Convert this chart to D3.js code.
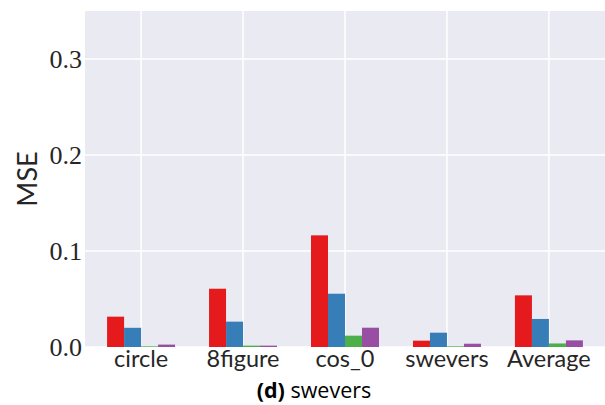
<!DOCTYPE html>
<html>
<head>
<meta charset="utf-8">
<script src="https://cdn.jsdelivr.net/npm/d3@7"></script>
<style>
  html, body { margin: 0; padding: 0; background: #ffffff; }
  svg { display: block; }
</style>
</head>
<body>
<svg id="chart" width="605" height="405"></svg>
<script>
// Trajectories and the mean over them
const categories = ["circle", "8figure", "cos_0", "swevers", "Average"];

// MSE per method, one array per method (in category order)
const seriesA = [0.0316, 0.0607, 0.1163, 0.0066, 0.0538];
const seriesB = [0.0200, 0.0264, 0.0555, 0.0149, 0.0292];
const seriesC = [0.0007, 0.0014, 0.0118, 0.0007, 0.0037];
const seriesD = [0.0025, 0.0014, 0.0201, 0.0034, 0.0069];

const seriesColors = ["#E41A1C", "#377EB8", "#4DAF4A", "#984EA3"];
const yTicks = [0.0, 0.1, 0.2, 0.3];

const series = [seriesA, seriesB, seriesC, seriesD];

const svg = d3.select("#chart");
const plot = { left: 85, top: 11, right: 605, bottom: 347 };

const x = d3.scaleLinear().domain([-0.55, categories.length - 0.45]).range([plot.left, plot.right]);
const y = d3.scaleLinear().domain([0, 0.35]).range([plot.bottom, plot.top]);

// Axes background
svg.append("rect")
  .attr("x", plot.left).attr("y", plot.top)
  .attr("width", plot.right - plot.left).attr("height", plot.bottom - plot.top)
  .attr("fill", "#EAEAF2");

// Gridlines
const g = svg.append("g");
g.selectAll("line.hgrid").data(yTicks).enter().append("line")
  .attr("class", "hgrid")
  .attr("x1", plot.left).attr("x2", plot.right)
  .attr("y1", d => y(d)).attr("y2", d => y(d))
  .attr("stroke", "#ffffff").attr("stroke-width", 1.5);
g.selectAll("line.vgrid").data(categories).enter().append("line")
  .attr("class", "vgrid")
  .attr("x1", (d, i) => x(i)).attr("x2", (d, i) => x(i))
  .attr("y1", plot.top).attr("y2", plot.bottom)
  .attr("stroke", "#ffffff").attr("stroke-width", 1.5);

// Bars: four per category, side by side
const barW = 1 / 6;
series.forEach((vals, s) => {
  svg.append("g").selectAll("rect").data(vals).enter().append("rect")
    .attr("x", (d, i) => x(i + (s - 2) * barW))
    .attr("width", x(barW) - x(0))
    .attr("y", d => y(d))
    .attr("height", d => y(0) - y(d))
    .attr("fill", seriesColors[s]);
});

// Y tick labels
svg.append("g").selectAll("text").data(yTicks).enter().append("text")
  .attr("x", 82).attr("y", d => y(d))
  .attr("dy", "0.35em")
  .attr("text-anchor", "end")
  .attr("font-family", "'Liberation Serif', serif")
  .attr("font-size", 26)
  .attr("fill", "#262626")
  .text(d => d.toFixed(1));

// X tick labels
svg.append("g").selectAll("text").data(categories).enter().append("text")
  .attr("x", (d, i) => x(i)).attr("y", 367)
  .attr("text-anchor", "middle")
  .attr("font-family", "Lato, sans-serif")
  .attr("font-size", 23.5)
  .attr("fill", "#262626")
  .text(d => d);

// Y axis title
svg.append("text")
  .attr("transform", "translate(37,179) rotate(-90)")
  .attr("text-anchor", "middle")
  .attr("font-family", "Lato, sans-serif")
  .attr("font-size", 27)
  .attr("fill", "#262626")
  .text("MSE");

// Caption
const cap = svg.append("text")
  .attr("x", 314).attr("y", 398)
  .attr("text-anchor", "middle")
  .attr("font-family", "'Open Sans', sans-serif")
  .attr("font-size", 21.5)
  .attr("fill", "#000000");
cap.append("tspan").attr("font-weight", "bold").text("(d)");
cap.append("tspan").text(" swevers");
</script>
</body>
</html>
